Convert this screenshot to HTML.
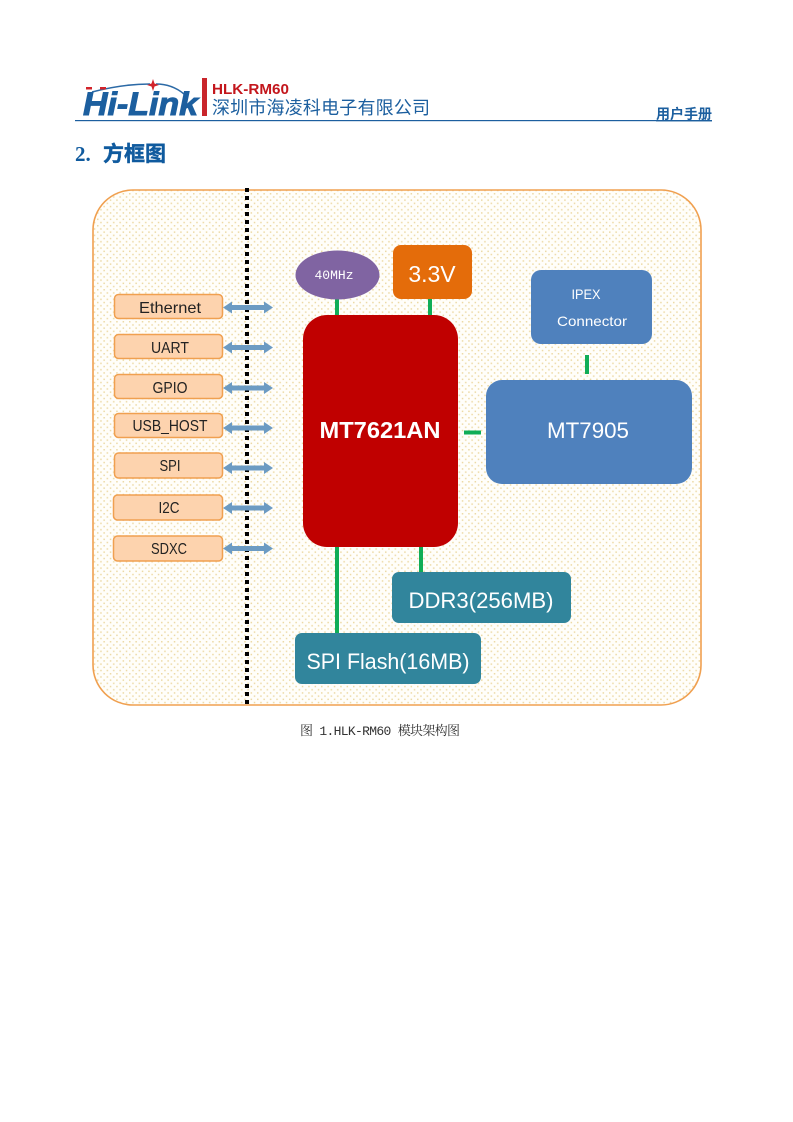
<!DOCTYPE html>
<html><head><meta charset="utf-8"><style>
html,body{margin:0;padding:0;background:#fff;width:793px;height:1122px;overflow:hidden}
svg{display:block}
text{font-family:"Liberation Sans","Noto Sans CJK SC",sans-serif}
</style></head><body>
<svg width="793" height="1122" viewBox="0 0 793 1122" xmlns="http://www.w3.org/2000/svg">
<defs>
<pattern id="dots" width="6.4" height="6.4" patternUnits="userSpaceOnUse"><rect width="6.4" height="6.4" fill="#fffefa"/><rect x="1" y="1" width="1.500" height="1.500" fill="#ecd9a4"/><rect x="4.200" y="4.200" width="1.500" height="1.500" fill="#ecd9a4"/></pattern>
<g id="arr"><path d="M0 0l9-6v3.500h32v-3.500l9 6-9 6v-3.500h-32v3.500z" fill="#6c9bc3"/></g>
</defs>
<!-- header -->
<path d="M92 92Q122 84 150 84" stroke="#2c6aa6" stroke-width="1.500" fill="none"/>
<path d="M156 84Q172 84 184 94" stroke="#2c6aa6" stroke-width="1.500" fill="none"/>
<path d="M153 79l1.500 4.500 4.500 1.500-4.500 1.500-1.500 4.500-1.500-4.500-4.500-1.500 4.500-1.500z" fill="#d2232a"/>
<rect x="86" y="87" width="6" height="2.500" fill="#d2232a"/>
<rect x="100" y="87" width="6" height="2.500" fill="#d2232a"/>
<text x="83" y="115" font-size="32" font-weight="700" font-style="italic" fill="#1c5f9f" stroke="#1c5f9f" stroke-width="1" textLength="115" lengthAdjust="spacingAndGlyphs">Hi-Link</text>
<rect x="202" y="78" width="5" height="38" fill="#c9252b"/>
<text x="212" y="94" font-size="14.500" font-weight="700" fill="#c3161c" textLength="77" lengthAdjust="spacingAndGlyphs">HLK-RM60</text>
<text x="212" y="114" font-size="18" fill="#1c5f9f" textLength="218">深圳市海凌科电子有限公司</text>
<rect x="75" y="120" width="637" height="1.200" fill="#1c5f9f"/>
<text x="656" y="119" font-size="14" font-weight="700" fill="#1c5f9f" textLength="56" lengthAdjust="spacingAndGlyphs" text-decoration="underline">用户手册</text>
<text x="75" y="161" font-size="21" font-weight="700" fill="#0f5a9e" style="font-family:'Liberation Serif','Noto Sans CJK SC',serif">2.</text>
<text x="103" y="161" font-size="21" font-weight="700" fill="#0f5a9e" stroke="#0f5a9e" stroke-width=".4">方框图</text>
<!-- panel -->
<rect x="93" y="190" width="608" height="515" rx="40" fill="url(#dots)" stroke="#f0a050" stroke-width="1.600"/>
<path d="M247 188V706" stroke="#000" stroke-width="4" stroke-dasharray="4 4"/>
<!-- green connectors -->
<g stroke="#10ad57" stroke-width="4" fill="none">
<path d="M337 298V318M430 296V318M337 545V634M421 545V574M464 432.500H481M587 355V374"/>
</g>
<!-- ports -->
<g fill="#fdd3ae" stroke="#f0a050" stroke-width="1.500">
<rect x="114.500" y="294.500" width="108" height="24" rx="4"/>
<rect x="114.500" y="334.500" width="108" height="24" rx="4"/>
<rect x="114.500" y="374.500" width="108" height="24" rx="4"/>
<rect x="114.500" y="413.500" width="108" height="24" rx="4"/>
<rect x="114.500" y="453" width="108" height="25" rx="4"/>
<rect x="113.500" y="495" width="109" height="25" rx="4"/>
<rect x="113.500" y="536" width="109" height="25" rx="4"/>
</g>
<g font-size="16" fill="#222" text-anchor="middle" lengthAdjust="spacingAndGlyphs">
<text x="170" y="313" textLength="62" lengthAdjust="spacingAndGlyphs">Ethernet</text>
<text x="170" y="353" textLength="38" lengthAdjust="spacingAndGlyphs">UART</text>
<text x="170" y="393" textLength="35" lengthAdjust="spacingAndGlyphs">GPIO</text>
<text x="170" y="431" textLength="75" lengthAdjust="spacingAndGlyphs">USB_HOST</text>
<text x="170" y="471" textLength="21" lengthAdjust="spacingAndGlyphs">SPI</text>
<text x="169" y="513" textLength="21" lengthAdjust="spacingAndGlyphs">I2C</text>
<text x="169" y="554" textLength="36" lengthAdjust="spacingAndGlyphs">SDXC</text>
</g>
<use href="#arr" x="223" y="307.500"/>
<use href="#arr" x="223" y="347.500"/>
<use href="#arr" x="223" y="388"/>
<use href="#arr" x="223" y="428"/>
<use href="#arr" x="223" y="468"/>
<use href="#arr" x="223" y="508"/>
<use href="#arr" x="223" y="548.500"/>
<!-- chips -->
<rect x="303" y="315" width="155" height="232" rx="24" fill="#c00000"/>
<text x="380" y="438" font-size="23" font-weight="700" fill="#fff" text-anchor="middle" textLength="121" lengthAdjust="spacingAndGlyphs">MT7621AN</text>
<ellipse cx="337.500" cy="275" rx="42" ry="24.500" fill="#8064a2"/>
<text x="334" y="279" font-size="13" fill="#fff" text-anchor="middle" style="font-family:'Liberation Mono',monospace">40MHz</text>
<rect x="393" y="245" width="79" height="54" rx="8" fill="#e46c0a"/>
<text x="432" y="282" font-size="23" fill="#fff" text-anchor="middle">3.3V</text>
<rect x="531" y="270" width="121" height="74" rx="10" fill="#4f81bd"/>
<text x="586" y="299" font-size="14" fill="#fff" text-anchor="middle" textLength="29" lengthAdjust="spacingAndGlyphs">IPEX</text>
<text x="592" y="326" font-size="14" fill="#fff" text-anchor="middle" textLength="70" lengthAdjust="spacingAndGlyphs">Connector</text>
<rect x="486" y="380" width="206" height="104" rx="16" fill="#4f81bd"/>
<text x="588" y="438" font-size="22" fill="#fff" text-anchor="middle" textLength="82" lengthAdjust="spacingAndGlyphs">MT7905</text>
<rect x="392" y="572" width="179" height="51" rx="7" fill="#31859c"/>
<text x="481" y="608" font-size="22" fill="#fff" text-anchor="middle" textLength="145" lengthAdjust="spacingAndGlyphs">DDR3(256MB)</text>
<rect x="295" y="633" width="186" height="51" rx="7" fill="#31859c"/>
<text x="388" y="669" font-size="22" fill="#fff" text-anchor="middle" textLength="163" lengthAdjust="spacingAndGlyphs">SPI Flash(16MB)</text>
<!-- caption -->
<text x="300" y="735" font-size="13" fill="#333" style="font-family:'Liberation Mono','Noto Serif CJK SC',serif" textLength="160">图 1.HLK-RM60 模块架构图</text>
</svg>
</body></html>
